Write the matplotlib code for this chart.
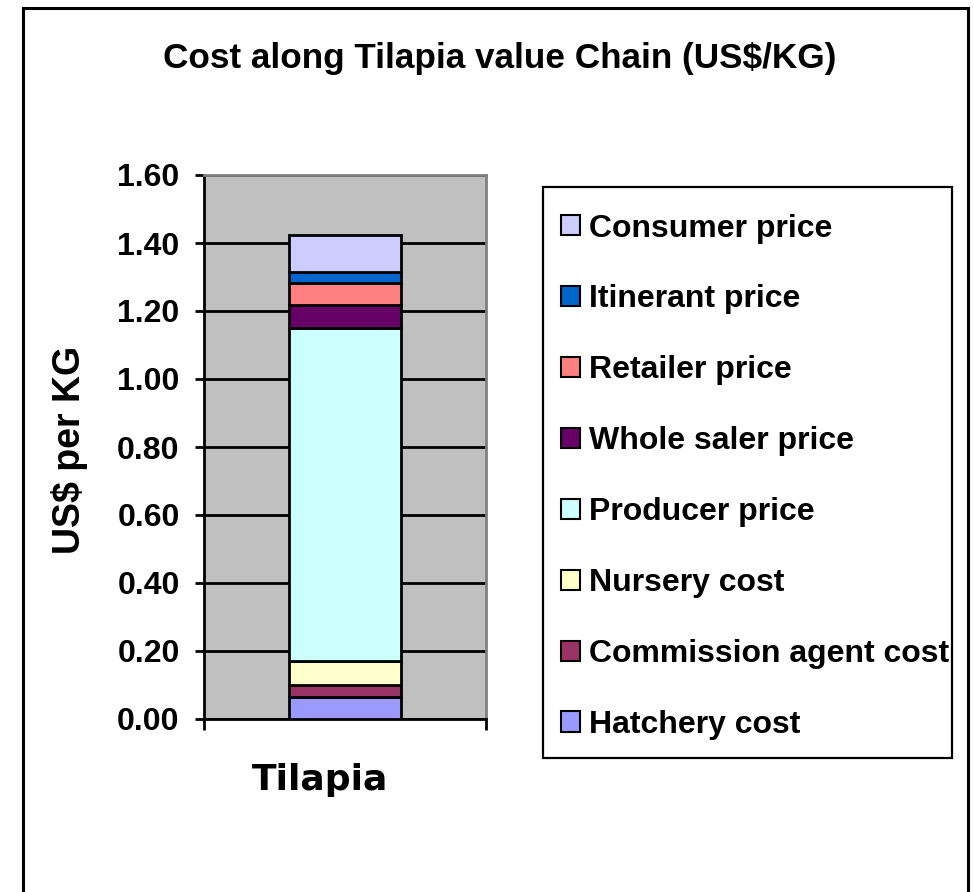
import matplotlib
matplotlib.use("Agg")
import matplotlib.pyplot as plt
from matplotlib.patches import Rectangle, Patch

# stacked components, bottom to top (US$/KG)
stages = ["Hatchery cost", "Commission agent cost", "Nursery cost", "Producer price",
          "Whole saler price", "Retailer price", "Itinerant price", "Consumer price"]
values = [0.065, 0.035, 0.072, 0.978, 0.067, 0.066, 0.033, 0.109]
colours = ["#9999FF", "#993366", "#FFFFCC", "#CCFFFF",
           "#660066", "#FF8080", "#0066CC", "#CCCCFF"]
yticks = [0.0, 0.2, 0.4, 0.6, 0.8, 1.0, 1.2, 1.4, 1.6]
category = "Tilapia"

plt.rcParams["font.family"] = ["Liberation Sans", "DejaVu Sans"]
plt.rcParams["font.weight"] = "bold"

W, H = 974, 892
fig = plt.figure(figsize=(W / 100, H / 100), dpi=100)

# outer chart border (bottom edge runs off the picture)
fig.patches.append(Rectangle((23 / W, -0.05), (968 - 23) / W, 1.05 - 8 / H,
                             transform=fig.transFigure, fill=False,
                             edgecolor="black", lw=2.2))
# legend box
fig.patches.append(Rectangle((543 / W, 1 - 758 / H), (952 - 543) / W, (758 - 187) / H,
                             transform=fig.transFigure, facecolor="white",
                             edgecolor="black", lw=1.6))

ax = fig.add_axes([204 / W, 1 - 719 / H, 282 / W, 544 / H])
ax.set_facecolor("#C0C0C0")

bottom = 0.0
for name, v, c in zip(stages, values, colours):
    ax.bar(0, v, width=0.4, bottom=bottom, color=c, edgecolor="black",
           linewidth=2, zorder=3)
    bottom += v

ax.set_xlim(-0.5, 0.5)
ax.set_ylim(0, 1.6)
ax.set_yticks(yticks)
ax.set_yticklabels([f"{t:.2f}" for t in yticks], fontsize=23, fontweight="bold")
ax.yaxis.grid(True, color="black", lw=2, zorder=1)
ax.set_axisbelow(True)
ax.set_xticks([-0.5, 0.5])
ax.set_xticklabels([])
ax.tick_params(axis="x", direction="out", length=8, width=2)
ax.tick_params(axis="y", direction="out", length=6.5, width=2, pad=11)

ax.spines["left"].set_linewidth(2)
ax.spines["bottom"].set_linewidth(2)
for s in ("top", "right"):
    ax.spines[s].set_color("#808080")
    ax.spines[s].set_linewidth(2)

ax.set_ylabel("US$ per KG", fontsize=27, fontweight="bold")
ax.yaxis.set_label_coords((88 - 204) / 282, (719 - 450) / 544)

fig.text(500 / W, 1 - 68 / H, "Cost along Tilapia value Chain (US$/KG)",
         ha="center", va="baseline", fontsize=25.3, fontweight="bold")
fig.text(320 / W, 1 - 780 / H, category, ha="center", va="center",
         fontsize=26, fontweight="bold", family=["DejaVu Sans"])

handles = [Patch(facecolor=c, edgecolor="black", lw=1.5) for c in colours][::-1]
leg = fig.legend(handles, stages[::-1], loc="upper left",
                 bbox_to_anchor=(543 / W, 1 - 196 / H),
                 fontsize=23, frameon=False,
                 handlelength=0.6, handleheight=0.6,
                 handletextpad=0.3, labelspacing=1.28, borderpad=0.55,
                 borderaxespad=0)
for t in leg.get_texts():
    t.set_fontweight("bold")

fig.savefig("out.png", dpi=100)
